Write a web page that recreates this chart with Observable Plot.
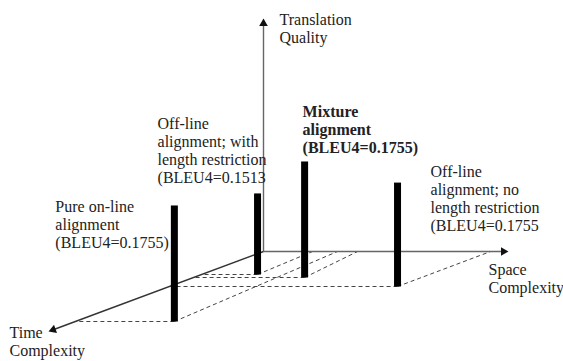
<!DOCTYPE html>
<html><head><meta charset="utf-8">
<script src="https://cdn.jsdelivr.net/npm/d3@7"></script>
<script src="https://cdn.jsdelivr.net/npm/@observablehq/plot@0.6"></script>
<style>body{margin:0;background:#fff} svg{display:block} svg text{font-family:"Liberation Serif","Times New Roman",serif !important}</style>
</head><body><div id="chart"></div>
<script>
// ---- data (arbitrary 0–100 units on each axis) ----
const approaches = ["Pure on-line alignment", "Off-line alignment; with length restriction", "Mixture alignment", "Off-line alignment; no length restriction"];
const labels = ["Pure on-line\nalignment\n(BLEU4=0.1755)", "Off-line\nalignment; with\nlength restriction\n(BLEU4=0.1513", "Mixture\nalignment\n(BLEU4=0.1755)", "Off-line\nalignment; no\nlength restriction\n(BLEU4=0.1755"];
const bleu = [0.1755, 0.1513, 0.1755, 0.1755];
const timeComplexity = [87.5, 28.75, 32.5, 43.75];
const spaceComplexity = [40.4, 22.8, 45.3, 93.1];
const spaceFoot = [30.2, 20, 38.4, 92.7];   // where each dashed guide meets the space axis
const quality = [49.8, 34.8, 49.8, 44.6];
const boldLabel = [false, false, true, false];
const axisNames = ["Translation\nQuality", "Space\nComplexity", "Time\nComplexity"];

// ---- oblique projection (layout) ----
const SX = 2.45, QY = 2.33, TX = 2.15, TY = 0.80;
const P = (t, s, q) => [s * SX - t * TX, q * QY - t * TY];

const bars = approaches.map((name, i) => {
  const [bx, by] = P(timeComplexity[i], spaceComplexity[i], 0);
  const [tx, ty] = P(timeComplexity[i], spaceComplexity[i], quality[i]);
  const [hx, hy] = P(timeComplexity[i], 0, 0);
  const [fx, fy] = P(0, spaceFoot[i], 0);
  return {name, bx, by, tx, ty, hx, hy, fx, fy, label: labels[i], bold: boldLabel[i]};
});

// label placement relative to bar top (screen px: right, down)
const labelOffset = [[-119, 43], [-100, -10], [-2, -8], [33, 48]];
bars.forEach((b, i) => { b.lx = b.tx + labelOffset[i][0]; b.ly = b.ty - labelOffset[i][1]; });

const guides = bars.flatMap(b => [
  {x1: b.bx, y1: b.by, x2: b.hx, y2: b.hy},
  {x1: b.bx, y1: b.by, x2: b.fx, y2: b.fy}
]);

const tips = [P(0, 0, 100), P(0, 100, 0), P(100, 0, 0)];
const head = 5;
const axes = tips.map(([x, y], i) => {
  const L = Math.hypot(x, y), ux = x / L, uy = y / L;
  const rot = Math.atan2(ux, uy) * 180 / Math.PI;
  return {x1: 0, y1: 0, x2: x - ux * head, y2: y - uy * head, cx: x - ux * head, cy: y - uy * head,
          rot: (rot + 360) % 360, name: axisNames[i], tipx: x, tipy: y,
          stroke: i === 2 ? "#333" : "#666", w: i === 2 ? 1.5 : 1.4};
});
const axisLabelOffset = [[16, 24], [-20, 41], [-39, 24]];
axes.forEach((a, i) => { a.lx = a.tipx + axisLabelOffset[i][0]; a.ly = a.tipy - axisLabelOffset[i][1]; });

const font = "'Liberation Serif', 'Times New Roman', serif";

const chart = Plot.plot({
  width: 563, height: 361,
  margin: 0,
  x: {domain: [-263, 300], range: [0, 563], axis: null},
  y: {domain: [-110, 251], range: [361, 0], axis: null},
  style: {background: "#fff", fontFamily: font},
  marks: [
    Plot.link(guides, {x1: "x1", y1: "y1", x2: "x2", y2: "y2", stroke: "#444", strokeWidth: 1, strokeDasharray: "4,3"}),
    Plot.link(axes, {x1: "x1", y1: "y1", x2: "x2", y2: "y2", stroke: "stroke", strokeWidth: "w"}),
    Plot.dot(axes, {x: "cx", y: "cy", symbol: "triangle", r: 3.2, fill: "#111", stroke: "none", rotate: "rot"}),
    Plot.link(bars, {x1: "bx", y1: "by", x2: "tx", y2: "ty", stroke: "#000", strokeWidth: 7, strokeLinecap: "butt"}),
    Plot.text(bars.filter(b => !b.bold), {x: "lx", y: "ly", text: "label", textAnchor: "start", lineAnchor: "bottom",
      fontSize: 16, lineHeight: 1.125, fontFamily: font, fill: "#222"}),
    Plot.text(bars.filter(b => b.bold), {x: "lx", y: "ly", text: "label", textAnchor: "start", lineAnchor: "bottom",
      fontSize: 16, lineHeight: 1.125, fontFamily: font, fontWeight: "bold", fill: "#222"}),
    Plot.text(axes, {x: "lx", y: "ly", text: "name", textAnchor: "start", lineAnchor: "bottom",
      fontSize: 16, lineHeight: 1.125, fontFamily: font, fill: "#222"})
  ]
});
document.getElementById("chart").appendChild(chart);
</script>
</body></html>
